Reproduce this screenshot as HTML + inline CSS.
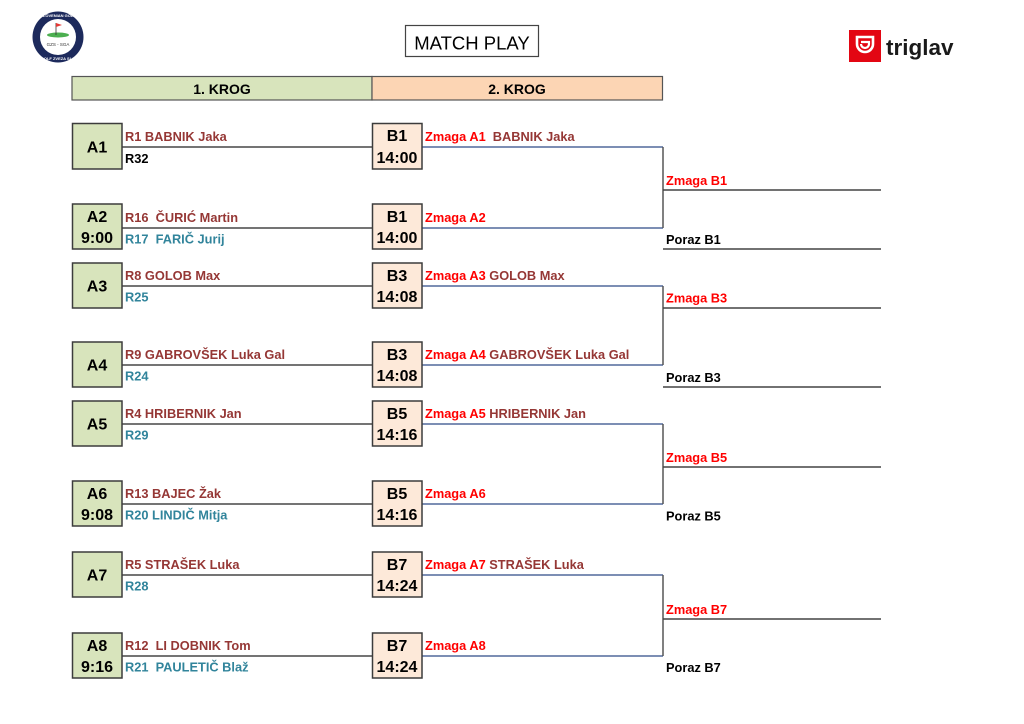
<!DOCTYPE html>
<html><head><meta charset="utf-8"><style>
html,body{margin:0;padding:0;background:#fff;}
svg{display:block;}
text{font-family:"Liberation Sans",Arial,sans-serif;}
.b{font-weight:bold;}
.nm{font-size:12.8px;font-weight:bold;fill:#953735;}
.tl{font-size:12.8px;font-weight:bold;fill:#31849b;}
.bk{font-size:12.8px;font-weight:bold;fill:#000;}
.zr{font-size:12.8px;font-weight:bold;fill:#ff0000;}
.bx{font-size:16px;font-weight:bold;fill:#000;}
.ga{fill:#d8e4bc;stroke:#3c3c3c;stroke-width:1.5;}
.pb{fill:#fde9d9;stroke:#3c3c3c;stroke-width:1.5;}
.ln{stroke:#222;stroke-width:1.2;}
.bl{stroke:#2f4a86;stroke-width:1.2;fill:none;}
.vt{stroke:#555;stroke-width:1.5;}
.rl{stroke:#444;stroke-width:1.5;}
</style></head><body>
<svg width="1024" height="724" viewBox="0 0 1024 724" xmlns="http://www.w3.org/2000/svg">
<rect width="1024" height="724" fill="#fff"/>

<!-- left logo -->
<circle cx="58" cy="37" r="25.5" fill="#1d2a5c"/>
<circle cx="58" cy="37" r="18" fill="#fff"/>
<text x="58" y="17" font-size="4" fill="#fff" text-anchor="middle" class="b">SLOVENIAN GOLF</text>
<text x="58" y="60" font-size="4" fill="#fff" text-anchor="middle" class="b">GOLF ZVEZA SLO</text>
<ellipse cx="58" cy="35" rx="11" ry="2.5" fill="#4caf50"/>
<line x1="56" y1="23" x2="56" y2="35" stroke="#333" stroke-width="0.8"/>
<polygon points="56,23 62,25 56,27" fill="#e53935"/>
<text x="58" y="46" font-size="4.5" fill="#333" text-anchor="middle">GZS - SGA</text>

<!-- MATCH PLAY -->
<rect x="405.5" y="25.5" width="133" height="31" fill="#fff" stroke="#444" stroke-width="1.2"/>
<text x="472" y="49.5" font-size="18.5" text-anchor="middle" fill="#000">MATCH PLAY</text>

<!-- triglav logo -->
<rect x="849" y="30" width="32" height="32" fill="#e30613"/>
<path d="M857 37 h16 v7 a8 8 0 0 1 -16 0 z" fill="none" stroke="#fff" stroke-width="2.6"/>
<path d="M861 42 h8 v2 a4 4 0 0 1 -8 0" fill="none" stroke="#fff" stroke-width="2.2"/>
<text x="886" y="55" font-size="22.5" class="b" fill="#1a1a1a">triglav</text>

<!-- header -->
<rect x="72" y="76.5" width="300" height="23.5" fill="#d8e4bc" stroke="#555" stroke-width="1.2"/>
<rect x="372" y="76.5" width="290.5" height="23.5" fill="#fcd5b4" stroke="#555" stroke-width="1.2"/>
<text x="222" y="94" font-size="14" class="b" text-anchor="middle">1. KROG</text>
<text x="517" y="94" font-size="14" class="b" text-anchor="middle">2. KROG</text>

<!-- Left connecting lines -->
<line class="ln" x1="122" y1="147" x2="372" y2="147"/>
<line class="ln" x1="122" y1="228" x2="372" y2="228"/>
<line class="ln" x1="122" y1="286" x2="372" y2="286"/>
<line class="ln" x1="122" y1="365" x2="372" y2="365"/>
<line class="ln" x1="122" y1="424" x2="372" y2="424"/>
<line class="ln" x1="122" y1="504" x2="372" y2="504"/>
<line class="ln" x1="122" y1="575" x2="372" y2="575"/>
<line class="ln" x1="122" y1="656" x2="372" y2="656"/>

<!-- Blue lines from B boxes -->
<line class="bl" x1="422" y1="147" x2="663" y2="147"/>
<line class="bl" x1="422" y1="228" x2="663" y2="228"/>
<line class="bl" x1="422" y1="286" x2="663" y2="286"/>
<line class="bl" x1="422" y1="365" x2="663" y2="365"/>
<line class="bl" x1="422" y1="424" x2="663" y2="424"/>
<line class="bl" x1="422" y1="504" x2="663" y2="504"/>
<line class="bl" x1="422" y1="575" x2="663" y2="575"/>
<line class="bl" x1="422" y1="656" x2="663" y2="656"/>

<!-- verticals -->
<line class="vt" x1="663" y1="147" x2="663" y2="228"/>
<line class="vt" x1="663" y1="286" x2="663" y2="365"/>
<line class="vt" x1="663" y1="424" x2="663" y2="504"/>
<line class="vt" x1="663" y1="575" x2="663" y2="656"/>

<!-- right lines -->
<line class="rl" x1="663" y1="190" x2="881" y2="190"/>
<line class="rl" x1="663" y1="249" x2="881" y2="249"/>
<line class="rl" x1="663" y1="308" x2="881" y2="308"/>
<line class="rl" x1="663" y1="387" x2="881" y2="387"/>
<line class="rl" x1="663" y1="467" x2="881" y2="467"/>
<line class="rl" x1="663" y1="619" x2="881" y2="619"/>

<!-- A boxes -->
<rect class="ga" x="72.5" y="123.5" width="49.5" height="45.5"/>
<text class="bx" x="97" y="152.5" text-anchor="middle">A1</text>
<rect class="ga" x="72.5" y="204" width="49.5" height="45"/>
<text class="bx" x="97" y="222" text-anchor="middle">A2</text>
<text class="bx" x="97" y="243" text-anchor="middle">9:00</text>
<rect class="ga" x="72.5" y="263" width="49.5" height="45"/>
<text class="bx" x="97" y="291.5" text-anchor="middle">A3</text>
<rect class="ga" x="72.5" y="342" width="49.5" height="45"/>
<text class="bx" x="97" y="370.5" text-anchor="middle">A4</text>
<rect class="ga" x="72.5" y="401" width="49.5" height="45"/>
<text class="bx" x="97" y="429.5" text-anchor="middle">A5</text>
<rect class="ga" x="72.5" y="481" width="49.5" height="45"/>
<text class="bx" x="97" y="499" text-anchor="middle">A6</text>
<text class="bx" x="97" y="520" text-anchor="middle">9:08</text>
<rect class="ga" x="72.5" y="552" width="49.5" height="45"/>
<text class="bx" x="97" y="580.5" text-anchor="middle">A7</text>
<rect class="ga" x="72.5" y="633" width="49.5" height="45"/>
<text class="bx" x="97" y="651" text-anchor="middle">A8</text>
<text class="bx" x="97" y="672" text-anchor="middle">9:16</text>

<!-- B boxes -->
<rect class="pb" x="372.5" y="123.5" width="49.5" height="45.5"/>
<text class="bx" x="397" y="141" text-anchor="middle">B1</text>
<text class="bx" x="397" y="163" text-anchor="middle">14:00</text>
<rect class="pb" x="372.5" y="204" width="49.5" height="45"/>
<text class="bx" x="397" y="222" text-anchor="middle">B1</text>
<text class="bx" x="397" y="243" text-anchor="middle">14:00</text>
<rect class="pb" x="372.5" y="263" width="49.5" height="45"/>
<text class="bx" x="397" y="281" text-anchor="middle">B3</text>
<text class="bx" x="397" y="302" text-anchor="middle">14:08</text>
<rect class="pb" x="372.5" y="342" width="49.5" height="45"/>
<text class="bx" x="397" y="360" text-anchor="middle">B3</text>
<text class="bx" x="397" y="381" text-anchor="middle">14:08</text>
<rect class="pb" x="372.5" y="401" width="49.5" height="45"/>
<text class="bx" x="397" y="419" text-anchor="middle">B5</text>
<text class="bx" x="397" y="440" text-anchor="middle">14:16</text>
<rect class="pb" x="372.5" y="481" width="49.5" height="45"/>
<text class="bx" x="397" y="499" text-anchor="middle">B5</text>
<text class="bx" x="397" y="520" text-anchor="middle">14:16</text>
<rect class="pb" x="372.5" y="552" width="49.5" height="45"/>
<text class="bx" x="397" y="570" text-anchor="middle">B7</text>
<text class="bx" x="397" y="591" text-anchor="middle">14:24</text>
<rect class="pb" x="372.5" y="633" width="49.5" height="45"/>
<text class="bx" x="397" y="651" text-anchor="middle">B7</text>
<text class="bx" x="397" y="672" text-anchor="middle">14:24</text>

<!-- Names round 1 -->
<text class="nm" x="125" y="141">R1 BABNIK Jaka</text>
<text class="bk" x="125" y="163">R32</text>
<text class="nm" x="125" y="222" xml:space="preserve">R16  ČURIĆ Martin</text>
<text class="tl" x="125" y="243.5" xml:space="preserve">R17  FARIČ Jurij</text>
<text class="nm" x="125" y="280">R8 GOLOB Max</text>
<text class="tl" x="125" y="301.5">R25</text>
<text class="nm" x="125" y="359">R9 GABROVŠEK Luka Gal</text>
<text class="tl" x="125" y="380.5">R24</text>
<text class="nm" x="125" y="418">R4 HRIBERNIK Jan</text>
<text class="tl" x="125" y="439.5">R29</text>
<text class="nm" x="125" y="498">R13 BAJEC Žak</text>
<text class="tl" x="125" y="519.5">R20 LINDIČ Mitja</text>
<text class="nm" x="125" y="569">R5 STRAŠEK Luka</text>
<text class="tl" x="125" y="590.5">R28</text>
<text class="nm" x="125" y="650" xml:space="preserve">R12  LI DOBNIK Tom</text>
<text class="tl" x="125" y="671.5" xml:space="preserve">R21  PAULETIČ Blaž</text>

<!-- Round 2 labels -->
<text class="zr" x="425" y="141" xml:space="preserve">Zmaga A1  <tspan fill="#953735">BABNIK Jaka</tspan></text>
<text class="zr" x="425" y="222">Zmaga A2</text>
<text class="zr" x="425" y="280">Zmaga A3 <tspan fill="#953735">GOLOB Max</tspan></text>
<text class="zr" x="425" y="359">Zmaga A4 <tspan fill="#953735">GABROVŠEK Luka Gal</tspan></text>
<text class="zr" x="425" y="418">Zmaga A5 <tspan fill="#953735">HRIBERNIK Jan</tspan></text>
<text class="zr" x="425" y="498">Zmaga A6</text>
<text class="zr" x="425" y="569">Zmaga A7 <tspan fill="#953735">STRAŠEK Luka</tspan></text>
<text class="zr" x="425" y="650">Zmaga A8</text>

<!-- Right side -->
<text class="zr" x="666" y="185">Zmaga B1</text>
<text class="bk" x="666" y="244">Poraz B1</text>
<text class="zr" x="666" y="302.5">Zmaga B3</text>
<text class="bk" x="666" y="382">Poraz B3</text>
<text class="zr" x="666" y="462">Zmaga B5</text>
<text class="bk" x="666" y="520.5">Poraz B5</text>
<text class="zr" x="666" y="614">Zmaga B7</text>
<text class="bk" x="666" y="672">Poraz B7</text>
</svg>
</body></html>
